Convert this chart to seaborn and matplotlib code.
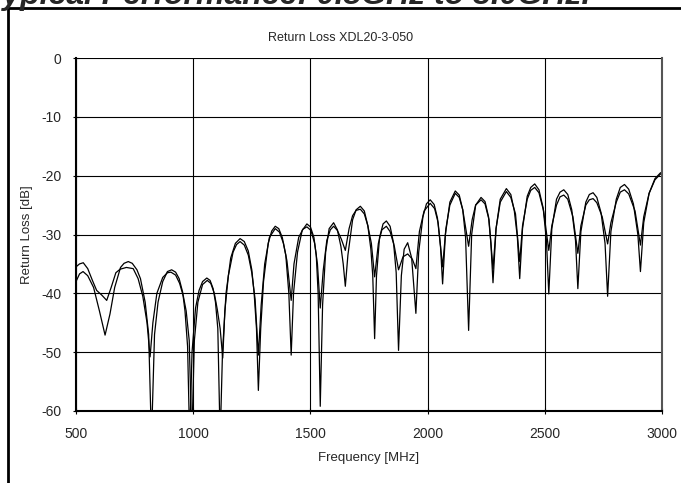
import pandas as pd
import matplotlib.pyplot as plt
import seaborn as sns
from matplotlib.lines import Line2D

# 两条回波损耗曲线（从图上读取的峰值、谷值和过渡点）
freq_a = [500, 515, 530, 550, 575, 600, 624, 645, 665, 690, 705, 723, 740, 760, 775, 795, 810, 822,
          835, 850, 870, 890, 908, 925, 940, 955, 965, 976, 985,
          995, 1010, 1025, 1040, 1058, 1072, 1085, 1095, 1105, 1115,
          1125, 1140, 1160, 1180, 1200, 1218, 1235, 1250, 1260, 1270, 1278,
          1288, 1300, 1320, 1335, 1350, 1365, 1380, 1395, 1408, 1418,
          1428, 1445, 1465, 1485, 1500, 1515, 1525, 1533, 1542,
          1552, 1565, 1580, 1599, 1615, 1630, 1640, 1649,
          1660, 1680, 1695, 1713, 1730, 1745, 1758, 1766, 1774,
          1782, 1795, 1810, 1824, 1840, 1855, 1866, 1876,
          1888, 1900, 1915, 1932, 1950,
          1962, 1980, 1995, 2011, 2028, 2042, 2055, 2064,
          2076, 2095, 2118, 2135, 2150, 2162, 2175,
          2188, 2205, 2228, 2245, 2260, 2270, 2279,
          2292, 2310, 2336, 2355, 2370, 2383, 2393,
          2405, 2425, 2440, 2457, 2475, 2493, 2507, 2517,
          2530, 2550, 2565, 2581, 2598, 2615, 2631, 2641,
          2654, 2675, 2690, 2706, 2722, 2740, 2757, 2768,
          2782, 2805, 2822, 2840, 2858, 2878, 2897, 2908,
          2922, 2945, 2970, 2994, 3000]
loss_a = [-38.0, -36.7, -36.3, -37.0, -39.0, -43.0, -47.1, -43.5, -39.0, -35.6, -34.9, -34.6, -34.9, -36.0, -37.5, -41.5, -47.0, -65.0,
          -47.0, -41.5, -38.0, -36.3, -36.0, -36.4, -37.5, -39.8, -43.0, -49.0, -65.0,
          -50.0, -42.5, -39.5, -38.0, -37.4, -37.8, -39.2, -41.5, -46.0, -65.0,
          -50.0, -40.0, -34.0, -31.5, -30.7, -31.2, -32.8, -36.0, -40.0, -46.0, -56.5,
          -46.0, -38.0, -31.5, -29.4, -28.6, -29.0, -30.5, -33.5, -40.0, -50.5,
          -40.0, -33.0, -29.3, -28.2, -28.7, -30.5, -33.5, -40.0, -59.2,
          -42.0, -33.0, -29.0, -28.0, -29.2, -32.0, -35.0, -38.8,
          -33.5, -27.5, -25.8, -25.2, -26.0, -28.5, -32.5, -37.0, -47.7,
          -37.0, -30.5, -28.2, -27.7, -28.6, -31.5, -36.5, -49.7,
          -37.0, -32.5, -31.4, -34.0, -43.4,
          -33.0, -27.0, -24.8, -24.1, -24.9, -27.2, -32.0, -38.4,
          -30.0, -24.5, -22.6, -23.3, -25.8, -30.5, -46.3,
          -30.0, -25.0, -23.7, -24.4, -27.0, -31.5, -38.2,
          -29.0, -24.0, -22.2, -23.2, -26.0, -30.5, -37.5,
          -29.0, -23.5, -22.0, -21.4, -22.4, -25.5, -31.0, -40.1,
          -29.0, -24.0, -22.8, -22.4, -23.2, -25.8, -31.0, -39.2,
          -29.5, -24.5, -23.2, -22.9, -23.7, -26.3, -31.5, -40.5,
          -29.5, -24.0, -22.0, -21.5, -22.3, -24.8, -30.0, -36.3,
          -28.0, -23.0, -20.5, -19.5, -19.6]

freq_b = [500, 515, 531, 550, 570, 588, 610, 631, 650, 670, 688, 715, 744, 765, 785, 803, 816,
          828, 845, 870, 890, 905, 925, 942, 958, 970, 983, 994,
          1005, 1020, 1040, 1060, 1075, 1090, 1103, 1115, 1126,
          1135, 1150, 1170, 1185, 1200, 1218, 1235, 1250, 1264, 1278,
          1290, 1305, 1325, 1350, 1368, 1385, 1400, 1418,
          1430, 1450, 1468, 1485, 1502, 1518, 1530, 1542,
          1555, 1570, 1585, 1599, 1615, 1632, 1649,
          1665, 1680, 1695, 1713, 1730, 1745, 1760, 1774,
          1790, 1805, 1824, 1840, 1858, 1876,
          1895, 1915, 1935, 1950,
          1965, 1985, 2011, 2030, 2045, 2064,
          2078, 2095, 2118, 2135, 2150, 2175,
          2190, 2205, 2228, 2245, 2262, 2279,
          2292, 2310, 2336, 2355, 2375, 2393,
          2405, 2425, 2440, 2457, 2475, 2495, 2517,
          2530, 2550, 2565, 2581, 2598, 2620, 2641,
          2654, 2675, 2690, 2706, 2722, 2745, 2768,
          2782, 2805, 2822, 2840, 2858, 2885, 2908,
          2922, 2945, 2970, 2994, 3000]
loss_b = [-35.5, -35.0, -34.8, -35.8, -37.8, -39.5, -40.3, -41.2, -39.0, -36.5, -35.9, -35.6, -35.8, -37.5, -40.5, -45.0, -50.8,
          -45.0, -40.0, -37.3, -36.5, -36.4, -36.9, -38.3, -40.5, -43.0, -48.0, -65.0,
          -48.0, -41.5, -38.5, -37.8, -38.3, -40.0, -42.8, -46.0, -51.0,
          -43.0, -37.0, -33.0, -31.7, -31.2, -31.8, -33.5, -36.5, -41.0, -50.5,
          -42.0, -35.0, -30.5, -29.0, -29.6, -31.5, -34.5, -41.2,
          -35.0, -30.5, -29.1, -28.7, -29.3, -31.5, -35.0, -42.5,
          -36.0, -31.0, -29.2, -28.6, -29.3, -30.8, -32.7,
          -29.0, -26.8, -25.9, -25.7, -26.5, -28.5, -31.5, -37.2,
          -31.5, -29.2, -28.6, -29.5, -32.0, -36.0,
          -33.8, -33.3, -34.2, -35.8,
          -29.5, -26.0, -24.7, -25.6, -28.0, -35.5,
          -29.0, -25.0, -23.0, -23.7, -25.8, -32.0,
          -27.5, -25.0, -24.1, -24.8, -27.5, -35.8,
          -29.0, -24.5, -22.7, -23.7, -26.5, -34.6,
          -28.5, -24.0, -22.5, -22.0, -22.9, -26.0, -32.7,
          -28.5, -25.0, -23.6, -23.3, -24.0, -27.0, -33.2,
          -28.5, -25.0, -24.1, -23.9, -24.6, -27.0, -31.6,
          -28.0, -24.5, -22.8, -22.4, -23.1, -26.0, -31.8,
          -27.0, -23.0, -20.7, -19.7, -19.8]

x_ticks = [500, 1000, 1500, 2000, 2500, 3000]
y_ticks = [-60, -50, -40, -30, -20, -10, 0]

df_a = pd.DataFrame({'Frequency': freq_a, 'Loss': loss_a})
df_b = pd.DataFrame({'Frequency': freq_b, 'Loss': loss_b})

sns.set_style('white')
plt.rcParams['font.family'] = ['Liberation Sans', 'DejaVu Sans']
plt.rcParams['axes.unicode_minus'] = False

fig = plt.figure(figsize=(6.81, 4.83), dpi=100)
ax = fig.add_axes([76 / 681, 1 - 411 / 483, (662 - 76) / 681, (411 - 58) / 483])

sns.lineplot(data=df_a, x='Frequency', y='Loss', ax=ax, color='black', lw=0.9, sort=False)
sns.lineplot(data=df_b, x='Frequency', y='Loss', ax=ax, color='black', lw=0.9, sort=False)

ax.set_xlim(500, 3000)
ax.set_ylim(-60, 0)
ax.set_xticks(x_ticks)
ax.set_yticks(y_ticks)
ax.grid(True, color='black', lw=0.8)
ax.set_axisbelow(True)
for side in ['left', 'bottom']:
    ax.spines[side].set_color('black')
    ax.spines[side].set_linewidth(1.5)
ax.spines['top'].set_visible(False)
ax.spines['right'].set_color('#555555')
ax.spines['right'].set_linewidth(1.5)
ax.tick_params(axis='both', direction='inout', length=5, width=0.8, color='black',
               labelsize=10, bottom=True, left=True)
ax.tick_params(axis='x', pad=9)
ax.tick_params(axis='y', pad=8)
ax.set_xlabel('Frequency [MHz]', fontsize=9.5, labelpad=8)
ax.set_ylabel('Return Loss [dB]', fontsize=9.5, labelpad=6)

fig.text(341 / 681, 1 - 38 / 483, 'Return Loss XDL20-3-050', ha='center', va='center', fontsize=9)

# 外框和被截掉的大标题
fig.text(-16 / 681, 1 - 4 / 483, 'Typical Performance: 0.5GHz to 3.0GHz.', ha='left', va='baseline',
         fontsize=23, fontweight='bold', fontstyle='italic')
fig.add_artist(Line2D([7.5 / 681, 1], [1 - 7.5 / 483, 1 - 7.5 / 483], color='black', lw=2))
fig.add_artist(Line2D([7.5 / 681, 7.5 / 681], [0, 1 - 7.5 / 483], color='black', lw=2))

fig.savefig('out.png', dpi=100)
